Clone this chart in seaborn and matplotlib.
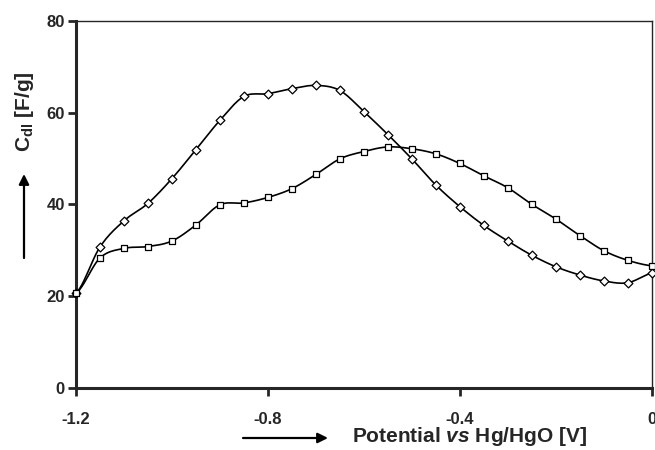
import numpy as np
import pandas as pd
import matplotlib
matplotlib.use("Agg")
import matplotlib.pyplot as plt
import seaborn as sns

# ---- data ----
potential = [-1.20, -1.15, -1.10, -1.05, -1.00, -0.95, -0.90, -0.85, -0.80, -0.75,
             -0.70, -0.65, -0.60, -0.55, -0.50, -0.45, -0.40, -0.35, -0.30, -0.25,
             -0.20, -0.15, -0.10, -0.05, 0.00]
cdl_diamond = [20.6, 30.7, 36.4, 40.2, 45.6, 51.9, 58.3, 63.5, 64.1, 65.2,
               65.9, 64.8, 60.2, 55.2, 49.9, 44.2, 39.5, 35.4, 32.0, 28.9,
               26.4, 24.6, 23.3, 22.9, 25.0]
cdl_square = [20.6, 28.3, 30.4, 30.8, 32.0, 35.5, 39.9, 40.3, 41.5, 43.4,
              46.5, 49.9, 51.5, 52.5, 52.1, 51.0, 48.9, 46.2, 43.6, 40.0,
              36.8, 33.2, 29.9, 27.8, 26.6]
xticks = [-1.2, -0.8, -0.4, 0.0]
xticklabels = ["-1.2", "-0.8", "-0.4", "0"]
yticks = [0, 20, 40, 60, 80]

sns.set_style("ticks")
plt.rcParams['font.family'] = ['Liberation Sans', 'DejaVu Sans']
plt.rcParams['font.weight'] = 'bold'
plt.rcParams['mathtext.fontset'] = 'custom'
plt.rcParams['mathtext.rm'] = 'Liberation Sans:bold'
plt.rcParams['mathtext.bf'] = 'Liberation Sans:bold'
plt.rcParams['mathtext.it'] = 'Liberation Sans:italic:bold'


def smooth_curve(x, y, n=12):
    """Catmull-Rom style smoothed line through the data points (drawing only)."""
    x = np.asarray(x, float)
    y = np.asarray(y, float)
    xs, ys = [], []
    m = len(x)
    for i in range(m - 1):
        y0 = y[i - 1] if i > 0 else y[i]
        y3 = y[i + 2] if i + 2 < m else y[i + 1]
        t = np.linspace(0, 1, n, endpoint=False)
        m1 = (y[i + 1] - y0) / 2
        m2 = (y3 - y[i]) / 2
        h00 = 2 * t**3 - 3 * t**2 + 1
        h10 = t**3 - 2 * t**2 + t
        h01 = -2 * t**3 + 3 * t**2
        h11 = t**3 - t**2
        xs.append(x[i] + t * (x[i + 1] - x[i]))
        ys.append(h00 * y[i] + h10 * m1 + h01 * y[i + 1] + h11 * m2)
    xs.append([x[-1]])
    ys.append([y[-1]])
    return np.concatenate(xs), np.concatenate(ys)


fig = plt.figure(figsize=(6.55, 4.5), dpi=100)
ax = fig.add_axes([0.116, 0.138, 0.879, 0.816])

for series, marker in [(cdl_diamond, 'D'), (cdl_square, 's')]:
    sx, sy = smooth_curve(potential, series)
    sns.lineplot(x=sx, y=sy, ax=ax, color='black', lw=1.2, sort=False, estimator=None)
    df = pd.DataFrame({"x": potential, "y": series})
    sns.scatterplot(data=df, x="x", y="y", ax=ax, marker=marker,
                    s=24 if marker == 's' else 20,
                    facecolor='white', edgecolor='black', linewidth=0.9, zorder=3,
                    clip_on=False)

ax.set_xlim(-1.2, 0.0)
ax.set_ylim(0, 80)
ax.set_xticks(xticks)
ax.set_xticklabels(xticklabels)
ax.set_yticks(yticks)
ax.tick_params(axis='both', direction='out', length=6, width=2, labelsize=12)
ax.tick_params(axis='x', pad=11)
ax.tick_params(axis='y', pad=2)
for lab in ax.get_xticklabels() + ax.get_yticklabels():
    lab.set_fontweight('bold')
for sp in ax.spines.values():
    sp.set_visible(True)
    sp.set_linewidth(1.0)
ax.spines['left'].set_linewidth(2.2)
ax.spines['bottom'].set_linewidth(2.2)
ax.set_xlabel("")
ax.set_ylabel("")

fig.text(352 / 655, 1 - 437 / 450, r"Potential $\mathit{vs}$ Hg/HgO [V]", ha='left', va='center',
         fontsize=15, fontweight='bold')
fig.text(25 / 655, 1 - 112 / 450, r"C$_{\mathrm{dl}}$ [F/g]", rotation=90, rotation_mode='anchor',
         ha='center', va='center', fontsize=15, fontweight='bold')

fig.add_artist(matplotlib.patches.FancyArrowPatch(
    (243 / 655, 1 - 438 / 450), (328 / 655, 1 - 438 / 450), transform=fig.transFigure,
    arrowstyle='-|>', mutation_scale=15, color='black', lw=1.6, shrinkA=0, shrinkB=0))
fig.add_artist(matplotlib.patches.FancyArrowPatch(
    (24 / 655, 1 - 258 / 450), (24 / 655, 1 - 174 / 450), transform=fig.transFigure,
    arrowstyle='-|>', mutation_scale=15, color='black', lw=1.6, shrinkA=0, shrinkB=0))

fig.savefig("out.png", dpi=100, facecolor='white')
